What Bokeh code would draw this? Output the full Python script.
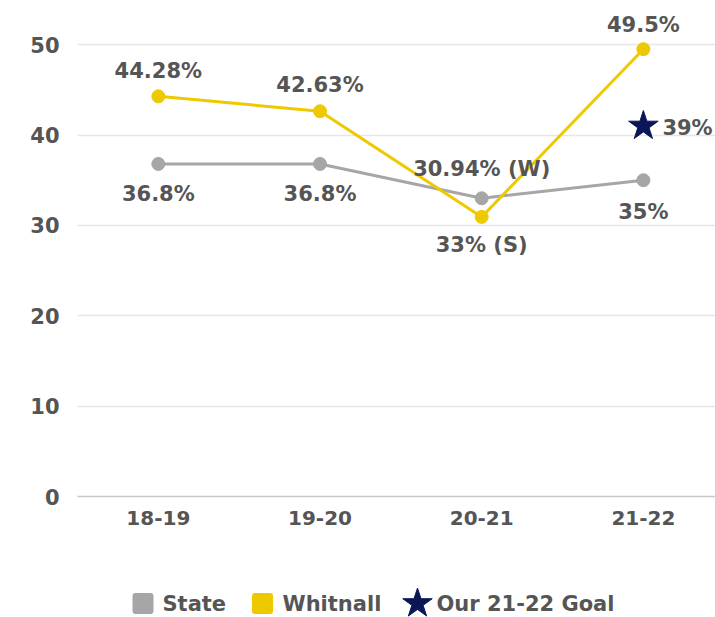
from bokeh.plotting import figure
from bokeh.models import ColumnDataSource, Range1d, FixedTicker
from bokeh.layouts import column
from bokeh.core.properties import value
from bokeh.embed import file_html
from bokeh.resources import INLINE

# ---- data ----
years = ["18-19", "19-20", "20-21", "21-22"]
state = [36.8, 36.8, 33.0, 35.0]
whitnall = [44.28, 42.63, 30.94, 49.5]
state_labels = ["36.8%", "36.8%", "33% (S)", "35%"]
whitnall_labels = ["44.28%", "42.63%", "30.94% (W)", "49.5%"]
goal_year = "21-22"
goal_value = 41.0
goal_label = "39%"
y_ticks = [0, 10, 20, 30, 40, 50]
legend_labels = ["State", "Whitnall", "Our 21-22 Goal"]

# ---- style ----
GRAY = "#A6A6A6"
GOLD = "#EEC900"
NAVY = "#0B1656"
TEXT = "#555555"
GRID = "#E6E6E6"
FONT = value("DejaVu Sans")

xs = [i + 0.5 for i in range(len(years))]
goal_x = xs[years.index(goal_year)]

p = figure(width=715, height=533, x_range=Range1d(0, 3.946), y_range=Range1d(0, 54),
           output_backend="svg", toolbar_location=None,
           min_border_left=77, min_border_right=0, min_border_top=8, min_border_bottom=37)
p.outline_line_color = None
p.background_fill_color = "white"
p.border_fill_color = "white"
p.xgrid.visible = False
p.ygrid.grid_line_color = GRID
p.ygrid.grid_line_width = 1.3
p.ygrid.ticker = FixedTicker(ticks=y_ticks)

p.yaxis.ticker = FixedTicker(ticks=y_ticks)
p.yaxis.axis_line_color = None
p.yaxis.major_tick_line_color = None
p.yaxis.minor_tick_line_color = None
p.yaxis.major_label_standoff = 12
p.yaxis.major_label_text_font = "DejaVu Sans"
p.yaxis.major_label_text_font_style = "bold"
p.yaxis.major_label_text_font_size = "21px"
p.yaxis.major_label_text_color = TEXT

p.xaxis.ticker = FixedTicker(ticks=xs)
p.xaxis.major_label_overrides = {x: y for x, y in zip(xs, years)}
p.xaxis.axis_line_color = "#C8C8C8"
p.xaxis.axis_line_width = 1.5
p.xaxis.major_tick_line_color = None
p.xaxis.minor_tick_line_color = None
p.xaxis.major_label_standoff = 8
p.xaxis.major_label_text_font = "DejaVu Sans"
p.xaxis.major_label_text_font_style = "bold"
p.xaxis.major_label_text_font_size = "20px"
p.xaxis.major_label_text_color = TEXT

# series
p.line(xs, state, line_color=GRAY, line_width=3)
p.scatter(xs, state, size=13, fill_color=GRAY, line_color=GRAY)
p.line(xs, whitnall, line_color=GOLD, line_width=3)
p.scatter(xs, whitnall, size=13, fill_color=GOLD, line_color=GOLD)

# goal star
p.scatter([goal_x], [goal_value], marker="star", size=31, fill_color=NAVY, line_color=NAVY)

# labels
w_off = [-25, -26, -48, -24]
s_off = [30, 30, 47, 32]
wsrc = ColumnDataSource(dict(x=xs, y=whitnall, t=whitnall_labels, off=w_off))
ssrc = ColumnDataSource(dict(x=xs, y=state, t=state_labels, off=s_off))
for src in (wsrc, ssrc):
    p.text(x="x", y="y", text="t", y_offset="off", source=src,
           text_align="center", text_baseline="middle",
           text_font=FONT, text_font_style="bold", text_font_size="21px",
           text_color=TEXT)
p.text(x=[goal_x], y=[goal_value], text=[goal_label], x_offset=19, y_offset=2,
       text_align="left", text_baseline="middle",
       text_font=FONT, text_font_style="bold", text_font_size="21px", text_color=TEXT)

# ---- legend figure (coordinates = page pixels) ----
lf = figure(width=715, height=84, x_range=Range1d(77, 715), y_range=Range1d(617, 533),
            output_backend="svg", toolbar_location=None, x_axis_type=None, y_axis_type=None,
            min_border_left=77, min_border_right=0, min_border_top=0, min_border_bottom=0)
lf.outline_line_color = None
lf.xgrid.visible = False
lf.ygrid.visible = False
ly = 603
lf.scatter([142.5], [ly], marker="square", size=15, fill_color=GRAY, line_color=GRAY,
           line_width=6, line_join="round")
lf.scatter([262], [ly], marker="square", size=15, fill_color=GOLD, line_color=GOLD,
           line_width=6, line_join="round")
lf.scatter([417], [ly], marker="star", size=31, fill_color=NAVY, line_color=NAVY)
lf.text(x=[162, 282, 436], y=[ly, ly, ly], text=legend_labels,
        text_align="left", text_baseline="middle",
        text_font=FONT, text_font_style="bold", text_font_size="21px", text_color=TEXT)

layout = column(p, lf, spacing=0)
open("out.html", "w").write(file_html(layout, INLINE))
